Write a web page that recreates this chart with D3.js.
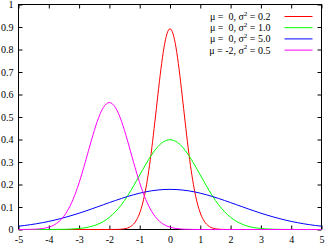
<!DOCTYPE html>
<html>
<head>
<meta charset="utf-8">
<script src="https://cdn.jsdelivr.net/npm/d3@7"></script>
<style>
  body { margin: 0; background: #fff; }
  svg { display: block; }
  text { font-family: "Liberation Serif", "DejaVu Serif", serif; font-size: 10px; fill: #000; }
  .legend text { white-space: pre; }
</style>
</head>
<body>
<svg id="chart"></svg>
<script>
'use strict';

// x grid shared by the wide curves (step 0.2)
var xs = [-5, -4.8, -4.6, -4.4, -4.2, -4, -3.8, -3.6, -3.4, -3.2, -3, -2.8, -2.6, -2.4, -2.2, -2,
  -1.8, -1.6, -1.4, -1.2, -1, -0.8, -0.6, -0.4, -0.2, 0, 0.2, 0.4, 0.6, 0.8, 1, 1.2, 1.4, 1.6, 1.8, 2,
  2.2, 2.4, 2.6, 2.8, 3, 3.2, 3.4, 3.6, 3.8, 4, 4.2, 4.4, 4.6, 4.8, 5];

// finer grid for the narrow red curve
var redX = [-5, -2, -1.9, -1.8, -1.7, -1.6, -1.5, -1.4, -1.3, -1.2, -1.1, -1, -0.9, -0.8, -0.7, -0.6,
  -0.5, -0.4, -0.3, -0.2, -0.1, 0, 0.1, 0.2, 0.3, 0.4, 0.5, 0.6, 0.7, 0.8, 0.9, 1, 1.1, 1.2, 1.3, 1.4,
  1.5, 1.6, 1.7, 1.8, 1.9, 2, 5];

var redY = [0, 0, 0.0001, 0.0003, 0.0006, 0.0015, 0.0032, 0.0066, 0.0130, 0.0244, 0.0433, 0.0732, 0.1177,
  0.1801, 0.2621, 0.3627, 0.4775, 0.5980, 0.7123, 0.8072, 0.8700, 0.8921, 0.8700, 0.8072, 0.7123, 0.5980,
  0.4775, 0.3627, 0.2621, 0.1801, 0.1177, 0.0732, 0.0433, 0.0244, 0.0130, 0.0066, 0.0032, 0.0015, 0.0006,
  0.0003, 0.0001, 0, 0];

var greenY = [0, 0, 0, 0, 0, 0.0001, 0.0003, 0.0006, 0.0012, 0.0024, 0.0044, 0.0079, 0.0136, 0.0224, 0.0355,
  0.0540, 0.0790, 0.1109, 0.1497, 0.1942, 0.2420, 0.2897, 0.3332, 0.3683, 0.3910, 0.3989, 0.3910, 0.3683,
  0.3332, 0.2897, 0.2420, 0.1942, 0.1497, 0.1109, 0.0790, 0.0540, 0.0355, 0.0224, 0.0136, 0.0079, 0.0044,
  0.0024, 0.0012, 0.0006, 0.0003, 0.0001, 0, 0, 0, 0, 0];

var blueY = [0.0146, 0.0178, 0.0215, 0.0257, 0.0306, 0.0360, 0.0421, 0.0488, 0.0562, 0.0641, 0.0725, 0.0815,
  0.0907, 0.1003, 0.1100, 0.1196, 0.1290, 0.1381, 0.1467, 0.1545, 0.1614, 0.1674, 0.1721, 0.1756, 0.1777,
  0.1784, 0.1777, 0.1756, 0.1721, 0.1674, 0.1614, 0.1545, 0.1467, 0.1381, 0.1290, 0.1196, 0.1100, 0.1003,
  0.0907, 0.0815, 0.0725, 0.0641, 0.0562, 0.0488, 0.0421, 0.0360, 0.0306, 0.0257, 0.0215, 0.0178, 0.0146];

var magentaY = [0.0001, 0.0002, 0.0007, 0.0018, 0.0045, 0.0103, 0.0221, 0.0436, 0.0795, 0.1337, 0.2076,
  0.2975, 0.3936, 0.4808, 0.5421, 0.5642, 0.5421, 0.4808, 0.3936, 0.2975, 0.2076, 0.1337, 0.0795, 0.0436,
  0.0221, 0.0103, 0.0045, 0.0018, 0.0007, 0.0002, 0.0001, 0, 0, 0, 0, 0, 0, 0, 0, 0, 0, 0, 0, 0, 0, 0, 0,
  0, 0, 0, 0];

// legend: mu part, variance part, colour
var legendMu  = [' 0', ' 0', ' 0', '-2'];
var legendVar = ['0.2', '1.0', '5.0', '0.5'];
var colors    = ['#ff0000', '#00ff00', '#0000ff', '#ff00ff'];

var xTicks = [-5, -4, -3, -2, -1, 0, 1, 2, 3, 4, 5];
var yTicks = [0, 0.1, 0.2, 0.3, 0.4, 0.5, 0.6, 0.7, 0.8, 0.9, 1];

// chart size
var W = 326, H = 245;
var margin = { top: 4, right: 5, bottom: 16, left: 18 };
var width  = W - margin.left - margin.right;
var height = H - margin.top  - margin.bottom;

var svg = d3.select('#chart').attr('width', W).attr('height', H)
  .append('g')
  .attr('transform', 'translate(' + (margin.left + 0.5) + ',' + (margin.top + 0.5) + ')');

var x = d3.scaleLinear().domain([-5, 5]).range([0, width]);
var y = d3.scaleLinear().domain([0, 1]).range([height, 0]);

function fmtY(d){ return d === 0 || d === 1 ? String(d) : d3.format('.1f')(d); }

// axes (ticks inward, mirrored)
var gx = svg.append('g').attr('transform', 'translate(0,' + height + ')')
  .call(d3.axisBottom(x).tickValues(xTicks).tickSizeInner(-4).tickSizeOuter(0).tickPadding(6));
var gy = svg.append('g')
  .call(d3.axisLeft(y).tickValues(yTicks).tickFormat(fmtY).tickSizeInner(-4).tickSizeOuter(0).tickPadding(5));
var gt = svg.append('g')
  .call(d3.axisTop(x).tickValues(xTicks).tickSizeInner(-4).tickSizeOuter(0).tickFormat(''));
var gr = svg.append('g').attr('transform', 'translate(' + width + ',0)')
  .call(d3.axisRight(y).tickValues(yTicks).tickSizeInner(-4).tickSizeOuter(0).tickFormat(''));

[gx, gy, gt, gr].forEach(function(g){
  g.select('.domain').remove();
  g.selectAll('line').attr('stroke', '#000');
  g.selectAll('text').attr('font-family', null).attr('font-size', null);
});
gx.selectAll('text').text(function(d){ return String(d); });

// frame
svg.append('rect')
  .attr('width', width).attr('height', height)
  .attr('fill', 'none').attr('stroke', '#000').attr('stroke-width', 1);

// curves
var line = d3.line()
  .x(function(d){ return x(d[0]); })
  .y(function(d){ return y(d[1]); })
  .curve(d3.curveMonotoneX);

var series = [
  d3.zip(redX, redY),
  d3.zip(xs, greenY),
  d3.zip(xs, blueY),
  d3.zip(xs, magentaY)
];

series.forEach(function(s, i){
  svg.append('path').datum(s)
    .attr('fill', 'none').attr('stroke', colors[i]).attr('stroke-width', 1)
    .attr('d', line);
});

// legend
var lg = svg.append('g').attr('class', 'legend');
legendMu.forEach(function(mu, i){
  var ly = 12 + i * 11.2;
  var t = lg.append('text')
    .attr('x', 252).attr('y', ly + 3.5)
    .attr('text-anchor', 'end');
  t.append('tspan').text('\u03bc = ' + mu + ', \u03c3');
  t.append('tspan').attr('dy', -4.5).attr('font-size', '7px').text('2');
  t.append('tspan').attr('dy', 4.5).text(' = ' + legendVar[i]);
  lg.append('line')
    .attr('x1', 266).attr('x2', 294)
    .attr('y1', ly).attr('y2', ly)
    .attr('stroke', colors[i]).attr('stroke-width', 1);
});
</script>
</body>
</html>
